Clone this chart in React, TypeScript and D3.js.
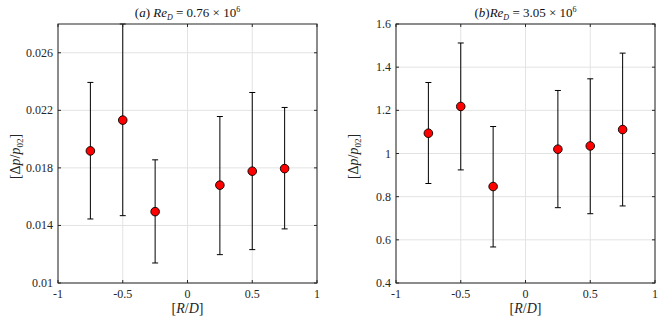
import React from "react";
import * as d3 from "d3";

const positions = [-0.75, -0.5, -0.25, 0.25, 0.5, 0.75];

// panel (a): Re_D = 0.76e6
const meanA = [0.01918, 0.02132, 0.01496, 0.0168, 0.01777, 0.01795];
const upperA = [0.02394, 0.028, 0.01856, 0.02157, 0.02324, 0.0222];
const lowerA = [0.01445, 0.01468, 0.01139, 0.01197, 0.01232, 0.01376];

// panel (b): Re_D = 3.05e6
const meanB = [1.094, 1.218, 0.847, 1.02, 1.035, 1.111];
const upperB = [1.329, 1.512, 1.125, 1.292, 1.346, 1.465];
const lowerB = [0.861, 0.924, 0.567, 0.749, 0.721, 0.757];

const xTicks = [-1, -0.5, 0, 0.5, 1];
const yTicksA = [0.01, 0.014, 0.018, 0.022, 0.026];
const yTicksB = [0.4, 0.6, 0.8, 1, 1.2, 1.4, 1.6];

type PanelProps = {
  left: number;
  right: number;
  yDomain: [number, number];
  yTicks: number[];
  yFmt: (v: number) => string;
  mean: number[];
  upper: number[];
  lower: number[];
  label: string;
  value: string;
  gap: boolean;
};

const Panel = ({ left, right, yDomain, yTicks, yFmt, mean, upper, lower, label, value, gap }: PanelProps) => {
  const top = 24;
  const bottom = 283;
  const x = d3.scaleLinear().domain([-1, 1]).range([left, right]);
  const y = d3.scaleLinear().domain(yDomain).range([bottom, top]);
  const axis = "#262626";
  const cx = (left + right) / 2;
  return (
    <g>
      {xTicks.map((t) => (
        <line key={"gx" + t} x1={x(t)} x2={x(t)} y1={top} y2={bottom} stroke="#e3e3e3" strokeWidth={1} />
      ))}
      {yTicks.map((t) => (
        <line key={"gy" + t} x1={left} x2={right} y1={y(t)} y2={y(t)} stroke="#e3e3e3" strokeWidth={1} />
      ))}
      {positions.map((p, i) => (
        <g key={"e" + p}>
          <line x1={x(p)} x2={x(p)} y1={y(upper[i])} y2={y(lower[i])} stroke="#000" strokeWidth={1} />
          <line x1={x(p) - 3} x2={x(p) + 3} y1={y(upper[i])} y2={y(upper[i])} stroke="#000" strokeWidth={1} />
          <line x1={x(p) - 3} x2={x(p) + 3} y1={y(lower[i])} y2={y(lower[i])} stroke="#000" strokeWidth={1} />
          <circle cx={x(p)} cy={y(mean[i])} r={4.3} fill="#ff0000" stroke="#000" strokeWidth={0.9} />
        </g>
      ))}
      <rect x={left} y={top} width={right - left} height={bottom - top} fill="none" stroke={axis} strokeWidth={1} />
      {xTicks.map((t) => (
        <g key={"tx" + t}>
          <line x1={x(t)} x2={x(t)} y1={bottom} y2={bottom - 3} stroke={axis} />
          <line x1={x(t)} x2={x(t)} y1={top} y2={top + 3} stroke={axis} />
          <text x={x(t)} y={bottom + 15} textAnchor="middle" fontSize={12} fill={axis}>
            {t}
          </text>
        </g>
      ))}
      {yTicks.map((t) => (
        <g key={"ty" + t}>
          <line x1={left} x2={left + 3} y1={y(t)} y2={y(t)} stroke={axis} />
          <line x1={right} x2={right - 3} y1={y(t)} y2={y(t)} stroke={axis} />
          <text x={left - 5} y={y(t) + 4} textAnchor="end" fontSize={12} fill={axis}>
            {yFmt(t)}
          </text>
        </g>
      ))}
      <text x={cx} y={bottom + 30} textAnchor="middle" fontSize={14} fill={axis}>
        [<tspan fontStyle="italic">R</tspan>/<tspan fontStyle="italic">D</tspan>]
      </text>
      <text
        transform={`translate(${left - 38},${(top + bottom) / 2 + 3}) rotate(-90)`}
        textAnchor="middle"
        fontSize={14}
        fill={axis}
      >
        [Δ<tspan fontStyle="italic">p</tspan>/<tspan fontStyle="italic">p</tspan>
        <tspan fontSize={9} dy={3}>02</tspan>
        <tspan dy={-3}>]</tspan>
      </text>
      <text x={cx} y={17} textAnchor="middle" fontSize={13} fill="#111">
        (<tspan fontStyle="italic">{label}</tspan>){gap ? " " : ""}
        <tspan fontStyle="italic">Re</tspan>
        <tspan fontStyle="italic" fontSize={8} dy={3}>D</tspan>
        <tspan dy={-3}>{" = " + value + " × 10"}</tspan>
        <tspan fontSize={8} dy={-5}>6</tspan>
      </text>
    </g>
  );
};

export default function App() {
  return (
    <svg
      width={664}
      height={319}
      fontFamily="Liberation Serif"
      style={{ position: "absolute", left: 0, top: 0, background: "#fff", fontFamily: "Liberation Serif" }}
    >
      <rect width={664} height={319} fill="#fff" />
      <Panel
        left={58}
        right={317}
        yDomain={[0.01, 0.028]}
        yTicks={yTicksA}
        yFmt={(v) => (v === 0.01 ? "0.01" : d3.format(".3f")(v))}
        mean={meanA}
        upper={upperA}
        lower={lowerA}
        label="a"
        value="0.76"
        gap={true}
      />
      <Panel
        left={396}
        right={655}
        yDomain={[0.4, 1.6]}
        yTicks={yTicksB}
        yFmt={(v) => String(v)}
        mean={meanB}
        upper={upperB}
        lower={lowerB}
        label="b"
        value="3.05"
        gap={false}
      />
    </svg>
  );
}
